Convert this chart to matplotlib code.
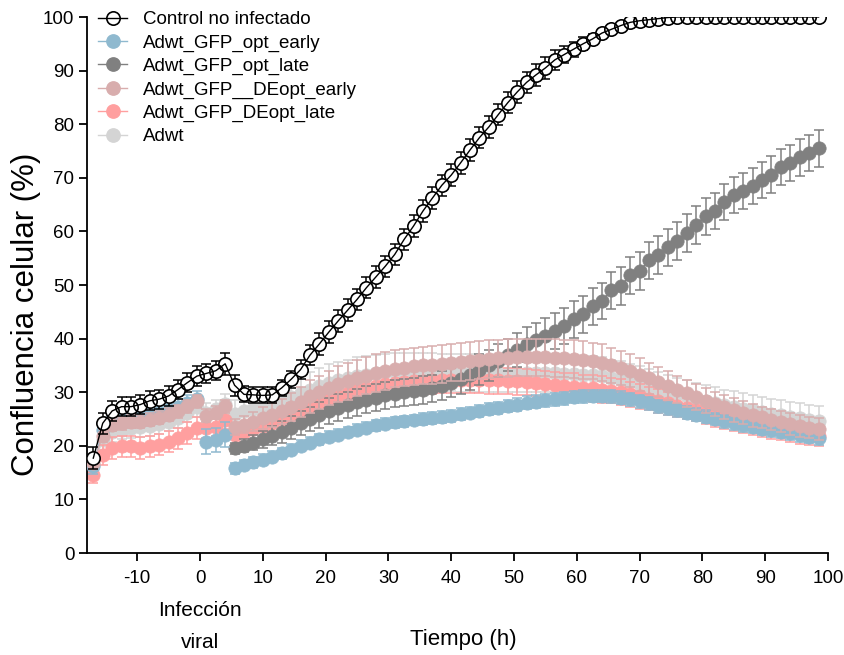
import numpy as np
import matplotlib
matplotlib.use("Agg")
import matplotlib.pyplot as plt
from matplotlib.lines import Line2D
from matplotlib.transforms import blended_transform_factory

plt.rcParams['font.family'] = ['Liberation Sans', 'DejaVu Sans']
plt.rcParams['axes.unicode_minus'] = False

nan = float('nan')

# time points (h)
T = [-17, -15.5, -14, -12.5, -11, -9.5, -8, -6.5, -5, -3.5, -2, -0.5,
     1, 2.5, 4,
     5.5, 7, 8.5, 10, 11.5, 13, 14.5, 16, 17.5, 19,
     20.5, 22, 23.5, 25, 26.5, 28, 29.5, 31, 32.5, 34,
     35.5, 37, 38.5, 40, 41.5, 43, 44.5, 46, 47.5, 49,
     50.5, 52, 53.5, 55, 56.5, 58, 59.5, 61, 62.5, 64,
     65.5, 67, 68.5, 70, 71.5, 73, 74.5, 76, 77.5, 79,
     80.5, 82, 83.5, 85, 86.5, 88, 89.5, 91, 92.5, 94,
     95.5, 97, 98.5]

labels = ["Control no infectado", "Adwt_GFP_opt_early", "Adwt_GFP_opt_late",
          "Adwt_GFP__DEopt_early", "Adwt_GFP_DEopt_late", "Adwt"]

control = [17.7, 24.2, 26.5, 27.3, 27.3, 27.7, 28.4, 28.7, 29.3, 30.5, 31.8, 33.0,
           33.5, 34.0, 35.3,
           31.3, 29.6, 29.5, 29.4, 29.5, 30.8, 32.4, 34.2, 36.9, 39.0,
           41.2, 43.3, 45.3, 47.3, 49.5, 51.5, 53.5, 55.7, 58.5, 61.0,
           63.8, 66.2, 68.6, 70.5, 72.8, 75.2, 77.5, 79.5, 81.8, 84.0,
           86.0, 87.8, 89.2, 90.5, 92.0, 93.0, 94.0, 95.0, 95.9, 97.0,
           97.7, 98.4, 99.0, 99.3, 99.5, 99.7, 99.9, 100, 100, 100,
           100, 100, 100, 100, 100, 100, 100, 100, 100, 100,
           100, 100, 100]
control_err = [2.0, 2.0, 1.8, 1.8, 1.8, 1.8, 1.8, 1.8, 1.8, 1.8, 1.8, 1.8,
               1.8, 1.8, 2.0,
               2.0, 1.5, 1.5, 1.5, 1.5, 1.5, 1.6, 1.8, 1.9, 2.0,
               2.0, 2.0, 2.0, 2.0, 2.0, 2.0, 2.0, 2.0, 2.0, 2.0,
               2.0, 2.0, 2.0, 2.0, 2.0, 2.0, 2.0, 2.0, 2.0, 2.0,
               2.0, 2.0, 2.0, 2.0, 1.8, 1.6, 1.4, 1.2, 1.0, 0.8,
               0.6, 0.5, 0.4, 0.3, 0.3, 0.2, 0.2, 0.2, 0.2, 0.2,
               0.1, 0.1, 0.1, 0.1, 0.1, 0.1, 0.1, 0.1, 0.1, 0.1,
               0.1, 0.1, 0.1]

opt_early = [16.2, 23.0, 25.0, 25.3, 25.6, 25.7, 26.0, 26.3, 26.8, 27.3, 28.0, 28.8,
             20.8, 21.1, 22.1,
             15.8, 16.4, 16.9, 17.4, 18.0, 18.6, 19.3, 20.0, 20.6, 21.2,
             21.7, 22.1, 22.6, 23.0, 23.4, 23.8, 24.1, 24.4, 24.6, 24.8,
             25.0, 25.2, 25.4, 25.6, 25.9, 26.2, 26.5, 26.8, 27.1, 27.4,
             27.7, 28.0, 28.2, 28.5, 28.7, 28.9, 29.1, 29.2, 29.3, 29.3,
             29.2, 29.0, 28.7, 28.3, 27.9, 27.4, 27.0, 26.6, 26.2, 25.8,
             25.4, 25.0, 24.6, 24.2, 23.8, 23.5, 23.2, 22.9, 22.6, 22.3,
             22.0, 21.7, 21.4]
opt_early_err = [1.5, 1.5, 1.5, 1.5, 1.5, 1.5, 1.5, 1.5, 1.5, 1.5, 1.5, 1.5,
                 2.3, 2.3, 2.3,
                 1.0, 1.0, 1.0, 1.0, 1.0, 1.0, 1.0, 1.0, 1.0, 1.0,
                 1.0, 1.0, 1.0, 1.0, 1.0, 1.0, 1.0, 1.0, 1.0, 1.0,
                 1.1, 1.1, 1.1, 1.1, 1.1, 1.1, 1.1, 1.1, 1.1, 1.1,
                 1.2, 1.2, 1.2, 1.2, 1.2, 1.2, 1.2, 1.2, 1.2, 1.2,
                 1.2, 1.2, 1.2, 1.2, 1.2, 1.2, 1.2, 1.2, 1.2, 1.2,
                 1.2, 1.2, 1.2, 1.2, 1.2, 1.2, 1.2, 1.2, 1.2, 1.2,
                 1.2, 1.2, 1.2]

opt_late = [nan, nan, nan, nan, nan, nan, nan, nan, nan, nan, nan, nan,
            nan, nan, nan,
            19.5, 20.0, 20.6, 21.2, 21.9, 22.6, 23.4, 24.2, 25.0, 25.8,
            26.5, 27.1, 27.6, 28.1, 28.6, 29.0, 29.4, 29.7, 30.0, 30.2,
            30.4, 30.7, 31.2, 31.8, 32.5, 33.3, 34.2, 35.0, 35.9, 36.9,
            37.9, 38.9, 39.7, 40.5, 41.4, 42.3, 43.6, 44.5, 46.0, 47.0,
            49.0, 49.8, 51.8, 52.6, 54.6, 55.6, 57.0, 58.2, 59.7, 61.2,
            62.8, 63.8, 65.5, 66.8, 67.5, 68.5, 69.6, 70.6, 72.0, 72.8,
            73.8, 74.6, 75.5]
opt_late_err = [nan, nan, nan, nan, nan, nan, nan, nan, nan, nan, nan, nan,
                nan, nan, nan,
                1.0, 1.2, 1.4, 1.6, 1.8, 2.0, 2.1, 2.2, 2.3, 2.4,
                2.5, 2.5, 2.5, 2.5, 2.5, 2.5, 2.5, 2.5, 2.5, 2.5,
                2.6, 2.6, 2.7, 2.7, 2.8, 2.8, 2.9, 2.9, 3.0, 3.0,
                3.2, 3.2, 3.3, 3.3, 3.4, 3.4, 3.4, 3.4, 3.4, 3.4,
                3.5, 3.5, 3.5, 3.5, 3.5, 3.5, 3.5, 3.5, 3.5, 3.5,
                3.4, 3.4, 3.4, 3.4, 3.4, 3.4, 3.4, 3.4, 3.4, 3.4,
                3.4, 3.4, 3.4]

deopt_early = [16.8, 21.9, 23.9, 24.2, 24.5, 24.5, 24.9, 25.2, 25.8, 26.4, 27.4, 28.3,
               25.6, 26.2, 27.4,
               23.5, 23.9, 24.5, 25.2, 25.8, 26.4, 27.3, 28.2, 29.2, 30.0,
               30.8, 31.5, 32.0, 32.6, 33.1, 33.6, 34.0, 34.4, 34.6, 34.8,
               35.0, 35.1, 35.3, 35.5, 35.6, 35.8, 36.0, 36.2, 36.3, 36.4,
               36.5, 36.5, 36.5, 36.5, 36.4, 36.3, 36.2, 36.0, 35.8, 35.5,
               35.0, 34.5, 34.0, 33.3, 32.6, 31.9, 31.2, 30.5, 29.8, 29.1,
               28.4, 27.8, 27.2, 26.7, 26.2, 25.7, 25.3, 24.9, 24.5, 24.1,
               23.7, 23.4, 23.1]
deopt_early_err = [1.2, 1.2, 1.2, 1.2, 1.2, 1.2, 1.2, 1.2, 1.2, 1.2, 1.2, 1.2,
                   1.2, 1.2, 1.2,
                   1.5, 1.6, 1.8, 2.0, 2.2, 2.4, 2.6, 2.8, 3.0, 3.1,
                   3.2, 3.3, 3.4, 3.4, 3.5, 3.5, 3.5, 3.5, 3.5, 3.5,
                   3.5, 3.5, 3.5, 3.5, 3.5, 3.5, 3.5, 3.5, 3.5, 3.5,
                   3.5, 3.5, 3.5, 3.5, 3.5, 3.5, 3.5, 3.5, 3.4, 3.4,
                   3.3, 3.2, 3.1, 3.0, 2.9, 2.8, 2.7, 2.6, 2.5, 2.4,
                   2.3, 2.3, 2.2, 2.2, 2.1, 2.1, 2.0, 2.0, 2.0, 2.0,
                   2.0, 2.0, 2.0]

deopt_late = [14.6, 18.3, 19.6, 19.9, 19.9, 19.6, 19.9, 20.2, 20.8, 21.4, 22.4, 23.3,
              23.3, 23.6, 24.9,
              22.0, 22.5, 23.1, 23.7, 24.3, 25.0, 25.7, 26.5, 27.3, 28.0,
              28.7, 29.3, 29.9, 30.4, 30.8, 31.2, 31.5, 31.7, 31.9, 32.0,
              32.1, 32.2, 32.3, 32.3, 32.3, 32.3, 32.3, 32.2, 32.2, 32.1,
              32.0, 31.9, 31.7, 31.5, 31.3, 31.1, 31.0, 30.8, 30.7, 30.5,
              30.3, 30.0, 29.6, 29.2, 28.8, 28.4, 27.9, 27.5, 27.0, 26.6,
              26.1, 25.6, 25.2, 24.8, 24.4, 24.0, 23.6, 23.3, 23.0, 22.7,
              22.4, 22.1, 21.9]
deopt_late_err = [1.5, 1.8, 2.0, 2.0, 2.0, 2.0, 2.0, 2.0, 2.0, 2.0, 2.0, 2.0,
                  1.8, 1.8, 1.8,
                  1.8, 1.8, 1.9, 2.0, 2.0, 2.1, 2.2, 2.3, 2.4, 2.5,
                  2.5, 2.5, 2.5, 2.5, 2.5, 2.5, 2.5, 2.5, 2.5, 2.5,
                  2.5, 2.5, 2.5, 2.5, 2.5, 2.5, 2.5, 2.5, 2.5, 2.5,
                  2.5, 2.5, 2.5, 2.5, 2.5, 2.5, 2.5, 2.5, 2.5, 2.5,
                  2.4, 2.4, 2.3, 2.3, 2.2, 2.2, 2.1, 2.1, 2.0, 2.0,
                  2.0, 2.0, 2.0, 2.0, 2.0, 2.0, 2.0, 2.0, 2.0, 2.0,
                  2.0, 2.0, 2.0]

adwt = [16.4, 21.0, 22.6, 23.0, 23.3, 23.5, 23.7, 24.0, 24.5, 25.2, 26.2, 27.2,
        26.2, 26.8, 27.8,
        26.0, 26.4, 26.9, 27.4, 27.9, 28.5, 29.1, 29.8, 30.5, 31.1,
        31.7, 32.2, 32.6, 33.0, 33.3, 33.5, 33.7, 33.8, 33.9, 33.9,
        33.9, 33.8, 33.7, 33.7, 33.6, 33.6, 33.5, 33.5, 33.5, 33.5,
        33.5, 33.5, 33.5, 33.5, 33.5, 33.4, 33.4, 33.3, 33.2, 33.0,
        32.7, 32.4, 32.0, 31.6, 31.1, 30.6, 30.1, 29.6, 29.2, 28.8,
        28.4, 28.0, 27.6, 27.3, 26.9, 26.6, 26.3, 26.0, 25.7, 25.4,
        25.1, 24.8, 24.6]
adwt_err = [1.8, 1.8, 1.8, 1.8, 1.8, 1.8, 1.8, 1.8, 1.8, 1.8, 1.8, 1.8,
            1.8, 1.8, 1.8,
            2.5, 2.6, 2.7, 2.8, 2.9, 3.0, 3.1, 3.2, 3.3, 3.4,
            3.5, 3.5, 3.5, 3.5, 3.5, 3.5, 3.5, 3.5, 3.5, 3.5,
            3.5, 3.5, 3.5, 3.5, 3.5, 3.5, 3.5, 3.5, 3.5, 3.5,
            3.5, 3.5, 3.5, 3.5, 3.5, 3.5, 3.5, 3.5, 3.5, 3.5,
            3.4, 3.4, 3.3, 3.3, 3.2, 3.2, 3.1, 3.1, 3.0, 3.0,
            3.0, 3.0, 2.9, 2.9, 2.9, 2.8, 2.8, 2.8, 2.8, 2.8,
            2.8, 2.8, 2.8]

SEGMENTS = [(0, 12), (12, 15), (15, 78)]

fig = plt.figure(figsize=(8.45, 6.55), dpi=100)
ax = fig.add_axes([87 / 845, 1 - 553 / 655, (828 - 87) / 845, (553 - 17) / 655])

MS = 9.6
CAP = 3.8
ELW = 1.1
LW = 1.0

series = [
    (adwt, adwt_err, '#D4D4D4', 1),
    (deopt_late, deopt_late_err, '#FF9F9F', 2),
    (opt_late, opt_late_err, '#808080', 3),
    (opt_early, opt_early_err, '#8FB9CF', 4),
    (deopt_early, deopt_early_err, '#D8ADAD', 5),
]

Tn = np.array(T, dtype=float)
for vals, errs, col, z in series:
    v = np.array(vals, dtype=float)
    e = np.array(errs, dtype=float)
    for a, b in SEGMENTS:
        ax.errorbar(Tn[a:b], v[a:b], yerr=e[a:b], fmt='none', ecolor=col,
                    elinewidth=ELW, capsize=CAP, capthick=ELW, zorder=z)
        ax.plot(Tn[a:b], v[a:b], '-', color=col, lw=LW, marker='o', ms=MS,
                mfc=col, mec=col, mew=0.5, zorder=z + 0.5)

# control (open circles)
cv = np.array(control, dtype=float)
ce = np.array(control_err, dtype=float)
ax.errorbar(Tn, cv, yerr=ce, fmt='none', ecolor='black', elinewidth=ELW,
            capsize=CAP, capthick=ELW, zorder=10)
ax.plot(Tn, cv, 'o', ms=MS, mfc='white', mec='none', zorder=10.3)
ax.plot(Tn, cv, '-', color='black', lw=LW, zorder=10.6)
ax.plot(Tn, cv, 'o', ms=MS, mfc='none', mec='black', mew=1.2, zorder=10.9)

ax.set_xlim(-18, 100)
ax.set_ylim(0, 100)
ax.set_xticks([-10, 0, 10, 20, 30, 40, 50, 60, 70, 80, 90, 100])
ax.set_yticks([0, 10, 20, 30, 40, 50, 60, 70, 80, 90, 100])
for s in ['top', 'right']:
    ax.spines[s].set_visible(False)
for s in ['left', 'bottom']:
    ax.spines[s].set_linewidth(1.3)
ax.tick_params(axis='both', direction='out', length=6, width=1.3,
               labelsize=13.5, colors='black')
ax.tick_params(axis='x', pad=6)
ax.tick_params(axis='y', pad=3)

# legend
handles = [
    Line2D([], [], color='black', lw=LW, marker='o', ms=MS, mfc='none', mec='black', mew=1.2),
    Line2D([], [], color='#8FB9CF', lw=LW, marker='o', ms=MS, mfc='#8FB9CF', mec='#8FB9CF'),
    Line2D([], [], color='#808080', lw=LW, marker='o', ms=MS, mfc='#808080', mec='#808080'),
    Line2D([], [], color='#D8ADAD', lw=LW, marker='o', ms=MS, mfc='#D8ADAD', mec='#D8ADAD'),
    Line2D([], [], color='#FF9F9F', lw=LW, marker='o', ms=MS, mfc='#FF9F9F', mec='#FF9F9F'),
    Line2D([], [], color='#D4D4D4', lw=LW, marker='o', ms=MS, mfc='#D4D4D4', mec='#D4D4D4'),
]
leg = fig.legend(handles, labels, loc='upper left',
                 bbox_to_anchor=(98 / 845, 1 - 11 / 655), frameon=False,
                 fontsize=13.5, handlelength=1.55, handletextpad=0.85,
                 labelspacing=0.33, borderpad=0, borderaxespad=0)
leg.set_zorder(20)

# labels
fig.text(26 / 845, 1 - 314 / 655, 'Confluencia celular (%)', rotation=90,
         ha='center', va='center', fontsize=22.5)
fig.text(463 / 845, 1 - 639 / 655, 'Tiempo (h)', ha='center', va='center', fontsize=16)
tr = blended_transform_factory(ax.transData, fig.transFigure)
ax.text(0, 1 - 611 / 655, 'Infección', transform=tr, ha='center', va='center', fontsize=15)
ax.text(0, 1 - 642 / 655, 'viral', transform=tr, ha='center', va='center', fontsize=15)

fig.savefig('out.png', dpi=100)
